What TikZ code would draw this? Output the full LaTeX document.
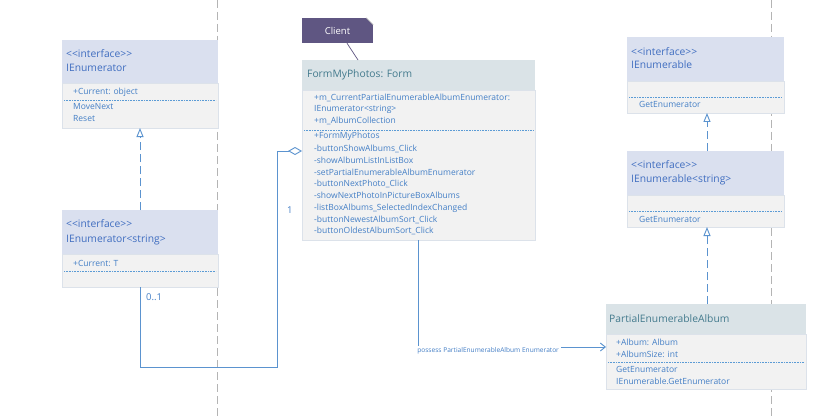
\documentclass[tikz,border=0pt]{standalone}
\usepackage{fontspec}
\setmainfont{Open Sans}[Ligatures=NoCommon]
\usetikzlibrary{arrows.meta}

\definecolor{ihfill}{HTML}{DAE0EF}
\definecolor{chfill}{HTML}{DAE3E7}
\definecolor{bodyfill}{HTML}{F2F2F2}
\definecolor{bodyline}{HTML}{DCE2EA}
\definecolor{ititle}{HTML}{3F6DC0}
\definecolor{ctitle}{HTML}{437A8D}
\definecolor{memc}{HTML}{447FC6}
\definecolor{sepc}{HTML}{5B9BD5}
\definecolor{connc}{HTML}{5B93CF}
\definecolor{lifec}{HTML}{B4B4B4}
\definecolor{notefill}{HTML}{5F5682}

\newcommand{\stereo}{<{}<interface>{}>}

\tikzset{
  ihead/.style={rectangle, fill=ihfill, inner sep=0pt, outer sep=0pt, anchor=north west},
  chead/.style={rectangle, fill=chfill, inner sep=0pt, outer sep=0pt, anchor=north west},
  bodybox/.style={rectangle, fill=bodyfill, draw=bodyline, line width=0.8pt, inner sep=0pt, outer sep=0pt, anchor=north west},
  ttl/.style={text=ititle, font=\fontsize{10.3}{12}\selectfont, anchor=west, inner sep=0pt},
  cttl/.style={text=ctitle, font=\fontsize{10.3}{12}\selectfont, anchor=west, inner sep=0pt},
  mem/.style={text=memc, font=\fontsize{8.5}{10}\selectfont, anchor=west, inner sep=0pt},
  sepline/.style={draw=sepc, line width=0.6pt, densely dotted},
  lifeline/.style={draw=lifec, line width=0.8pt, dash pattern=on 8pt off 4pt},
  conn/.style={draw=connc, line width=0.9pt},
  realize/.style={conn, dash pattern=on 8pt off 4pt, -{Triangle[open, length=9pt, width=7pt]}},
  aggr/.style={conn, -{Diamond[open, length=14pt, width=8pt]}},
  assoc/.style={conn, -{Straight Barb[length=5pt, width=8pt]}},
  mult/.style={text=memc, font=\fontsize{9.5}{11}\selectfont, anchor=west, inner sep=0pt},
  asslabel/.style={text=memc, font=\fontsize{6.6}{7.5}\selectfont, anchor=west, fill=white, inner sep=1.6pt},
  notebox/.style={rectangle, fill=notefill, text=white, font=\fontsize{9.5}{11}\selectfont, inner sep=0pt, minimum width=71pt, minimum height=25pt},
  noteline/.style={draw=notefill, line width=0.7pt}
}

\begin{document}
\begin{tikzpicture}[x=1pt, y=-1pt]
\useasboundingbox[fill=white] (0,0) rectangle (839,420);

% lifelines
\draw[lifeline] (217,0) -- (217,420);
\draw[lifeline] (771,0) -- (771,420);

% IEnumerator
\node[ihead, minimum width=156pt, minimum height=43pt] (ie-h) at (62,40) {};
\node[bodybox, minimum width=156pt, minimum height=45pt] (ie-b) at (62,83) {};
\node[ttl] at (66,54) {\stereo};
\node[ttl] at (66,67.5) {IEnumerator};
\node[mem] at (73,92) {+Current: object};
\draw[sepline] (64,100) -- (216,100);
\node[mem] at (73,107) {MoveNext};
\node[mem] at (73,119) {Reset};

% IEnumerator<string>
\node[ihead, minimum width=156pt, minimum height=44pt] (ies-h) at (62,210) {};
\node[bodybox, minimum width=156pt, minimum height=33pt] (ies-b) at (62,254) {};
\node[ttl] at (66,224) {\stereo};
\node[ttl] at (66,239.5) {IEnumerator<string>};
\node[mem] at (73,263) {+Current: T};
\draw[sepline] (64,271) -- (216,271);

% FormMyPhotos
\node[chead, minimum width=233pt, minimum height=30pt] (form-h) at (302,60) {};
\node[bodybox, minimum width=233pt, minimum height=150pt] (form-b) at (302,90) {};
\node[cttl] at (307,74.5) {FormMyPhotos: Form};
\node[mem] at (314,98.3) {+m\_CurrentPartialEnumerableAlbumEnumerator:};
\node[mem] at (314,109.6) {IEnumerator<string>};
\node[mem] at (314,121) {+m\_AlbumCollection};
\draw[sepline] (304,130.3) -- (533,130.3);
\node[mem] at (314,136.7) {+FormMyPhotos};
\node[mem] at (314,148.5) {-buttonShowAlbums\_Click};
\node[mem] at (314,160.5) {-showAlbumListInListBox};
\node[mem] at (314,172.2) {-setPartialEnumerableAlbumEnumerator};
\node[mem] at (314,184) {-buttonNextPhoto\_Click};
\node[mem] at (314,195.8) {-showNextPhotoInPictureBoxAlbums};
\node[mem] at (314,207.8) {-listBoxAlbums\_SelectedIndexChanged};
\node[mem] at (314,219.7) {-buttonNewestAlbumSort\_Click};
\node[mem] at (314,231.4) {-buttonOldestAlbumSort\_Click};

% Client note
\node[notebox] (client) at (337.5,30.5) {Client};
\fill[white] ([xshift=-7pt]client.north east) -- (client.north east) -- ([yshift=-7pt]client.north east) -- cycle;
\draw[draw=lifec, line width=0.5pt] ([xshift=-7pt]client.north east) -- ([yshift=-7pt]client.north east);
\draw[noteline] ([xshift=9.5pt]client.south) -- ([xshift=56pt]form-h.north west);

% IEnumerable
\node[ihead, minimum width=157pt, minimum height=44pt] (ien-h) at (627,37) {};
\node[bodybox, minimum width=157pt, minimum height=32pt] (ien-b) at (627,81) {};
\node[ttl] at (631,51.5) {\stereo};
\node[ttl] at (631,64.5) {IEnumerable};
\draw[sepline] (629,97) -- (782,97);
\node[mem] at (639,104.5) {GetEnumerator};

% IEnumerable<string>
\node[ihead, minimum width=157pt, minimum height=44pt] (iens-h) at (627,151) {};
\node[bodybox, minimum width=157pt, minimum height=32pt] (iens-b) at (627,195) {};
\node[ttl] at (631,165) {\stereo};
\node[ttl] at (631,179.5) {IEnumerable<string>};
\draw[sepline] (629,211) -- (782,211);
\node[mem] at (639,219) {GetEnumerator};

% PartialEnumerableAlbum
\node[chead, minimum width=200pt, minimum height=30pt] (part-h) at (606,304) {};
\node[bodybox, minimum width=200pt, minimum height=55pt] (part-b) at (606,334) {};
\node[cttl] at (609,318.5) {PartialEnumerableAlbum};
\node[mem] at (616,342) {+Album: Album};
\node[mem] at (616,354) {+AlbumSize: int};
\draw[sepline] (608,362) -- (804,362);
\node[mem] at (616,369.5) {GetEnumerator};
\node[mem] at (616,381.5) {IEnumerable.GetEnumerator};

% generalizations
\draw[realize] (ies-h.north) -- (ie-b.south);
\draw[realize] ([xshift=1.5pt]iens-h.north) -- ([xshift=1.5pt]ien-b.south);
\draw[realize] ([xshift=1pt]part-h.north) -- ([xshift=1.5pt]iens-b.south);

% aggregation
\coordinate (aggcorner) at (277,367);
\coordinate (agglevel) at (0,151);
\draw[aggr] (ies-b.south) |- (aggcorner) |- (form-b.west |- agglevel);
\node[mult] at (146,297) {0..1};
\node[mult] at (287,210) {1};

% association
\coordinate (asslevel) at (0,347);
\draw[assoc] (form-b.south) |- (part-b.west |- asslevel);
\node[asslabel] at (415.5,350.5) {possess PartialEnumerableAlbum Enumerator};

\end{tikzpicture}
\end{document}
